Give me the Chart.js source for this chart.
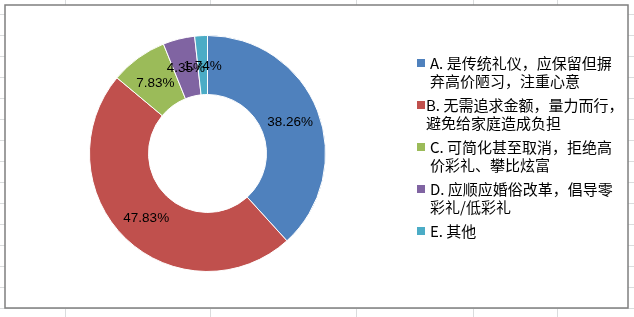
<!DOCTYPE html>
<html lang="zh-CN">
<head>
    <meta charset="UTF-8">
    <title>彩礼看法 圆环图</title>
    <script src="https://cdn.jsdelivr.net/npm/chart.js"></script>
    <style>
        html, body { margin: 0; padding: 0; background: #fff; }
        canvas { display: block; }
    </style>
</head>
<body>
    <canvas id="chart" width="634" height="317"></canvas>

    <script>
        // data
        const categories = [
            ['A. 是传统礼仪，应保留但摒', '弃高价陋习，注重心意'],
            ['B. 无需追求金额，量力而行，', '避免给家庭造成负担'],
            ['C. 可简化甚至取消，拒绝高', '价彩礼、攀比炫富'],
            ['D. 应顺应婚俗改革，倡导零', '彩礼/低彩礼'],
            ['E. 其他']
        ];
        const percents = [38.26, 47.83, 7.83, 4.35, 1.74];
        const colors = ['#4f81bd', '#c0504d', '#9bbb59', '#8064a2', '#4bacc6'];

        const cjkFont = '"Noto Sans CJK SC", "Noto Sans", sans-serif';

        // spreadsheet cells behind the chart + chart frame
        const sheetBackground = {
            id: 'sheetBackground',
            beforeDraw(chart) {
                const ctx = chart.ctx;
                ctx.save();
                ctx.fillStyle = '#fff';
                ctx.fillRect(0, 0, chart.width, chart.height);
                ctx.strokeStyle = '#dadcdd';
                ctx.lineWidth = 1;
                [65, 210, 356, 473, 557].forEach(x => {
                    ctx.beginPath();
                    ctx.moveTo(x + 0.5, 0);
                    ctx.lineTo(x + 0.5, chart.height);
                    ctx.stroke();
                });
                for (let y = 14; y < chart.height; y += 21) {
                    ctx.beginPath();
                    ctx.moveTo(0, y + 0.5);
                    ctx.lineTo(chart.width, y + 0.5);
                    ctx.stroke();
                }
                ctx.fillStyle = '#fff';
                ctx.fillRect(5, 5, 623, 303);
                ctx.strokeStyle = '#7f7f7f';
                ctx.lineWidth = 1.5;
                ctx.strokeRect(5, 5, 623, 303);
                ctx.restore();
            }
        };

        // percentage labels in the middle of each ring segment
        const sliceLabels = {
            id: 'sliceLabels',
            afterDatasetsDraw(chart) {
                const ctx = chart.ctx;
                const meta = chart.getDatasetMeta(0);
                ctx.save();
                ctx.font = '13.5px "Liberation Sans", Arial, sans-serif';
                ctx.fillStyle = '#000';
                ctx.textAlign = 'center';
                ctx.textBaseline = 'middle';
                meta.data.forEach((arc, i) => {
                    const p = arc.tooltipPosition();
                    ctx.fillText(percents[i].toFixed(2) + '%', p.x, p.y + 1);
                });
                ctx.restore();
            }
        };

        // legend on the right, drawn like the Excel one
        const sideLegend = {
            id: 'sideLegend',
            afterDraw(chart) {
                const ctx = chart.ctx;
                ctx.save();
                ctx.font = '15px ' + cjkFont;
                ctx.fillStyle = '#000';
                ctx.textBaseline = 'middle';
                const lineH = 18;
                const rightLimit = 622;
                let y = 63;
                categories.forEach((lines, i) => {
                    let tx = 430;
                    const w = Math.max(...lines.map(l => ctx.measureText(l).width));
                    if (tx + w > rightLimit) tx = Math.max(426, rightLimit - w);
                    ctx.fillStyle = colors[i];
                    ctx.fillRect(417, y - 4, 8, 8);
                    ctx.fillStyle = '#000';
                    lines.forEach((line, k) => {
                        ctx.fillText(line, tx, y + k * lineH);
                    });
                    y += 42;
                });
                ctx.restore();
            }
        };

        new Chart(document.getElementById('chart'), {
            type: 'doughnut',
            data: {
                labels: categories.map(l => l.join('')),
                datasets: [{
                    data: percents,
                    backgroundColor: colors,
                    borderColor: '#ffffff',
                    borderWidth: 1
                }]
            },
            options: {
                responsive: false,
                animation: false,
                cutout: '50%',
                layout: {
                    padding: { left: 89, right: 308, top: 35, bottom: 45 }
                },
                plugins: {
                    legend: { display: false },
                    tooltip: { enabled: false }
                }
            },
            plugins: [sheetBackground, sliceLabels, sideLegend]
        });
    </script>
</body>
</html>
